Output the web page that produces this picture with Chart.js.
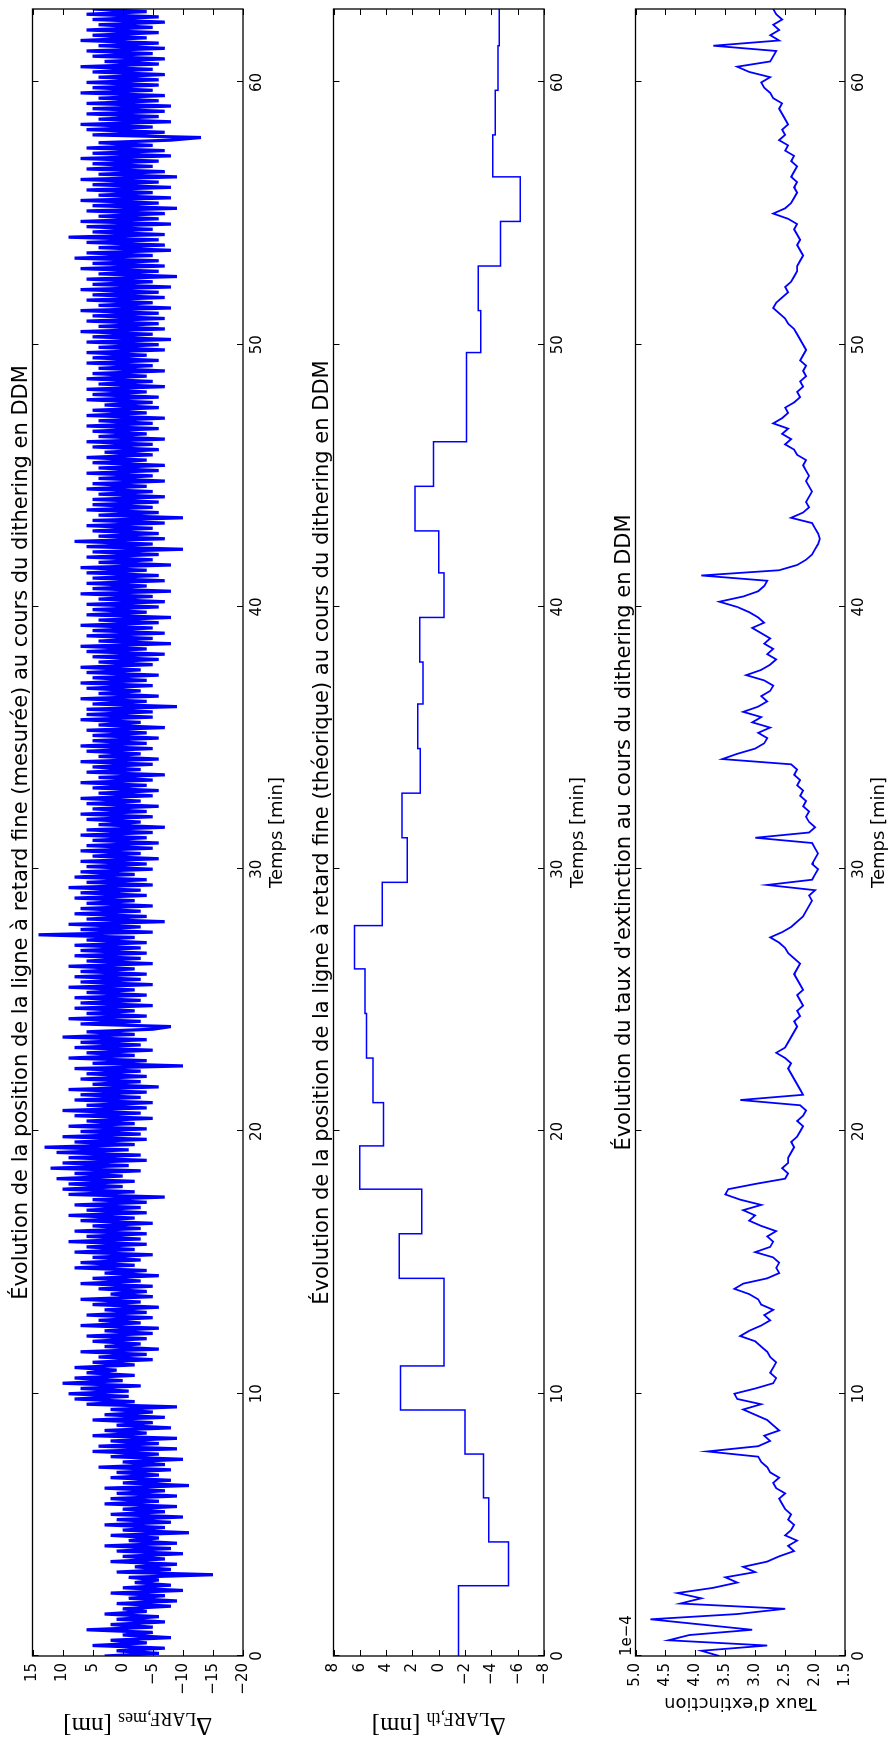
<!DOCTYPE html>
<html>
<head>
<meta charset="utf-8">
<script src="https://cdn.jsdelivr.net/npm/chart.js@4.4.0/dist/chart.umd.min.js"></script>
<style>
  html, body { margin: 0; padding: 0; background: #fff; overflow: hidden; }
  /* the figure is laid out landscape, then turned a quarter turn */
  #fig { position: absolute; left: 0; top: 0; width: 1742px; height: 891px;
         transform-origin: 0 0; transform: translateY(1742px) rotate(-90deg); background: #fff; }
  #fig canvas { position: absolute; left: 0; }
</style>
</head>
<body>
<div id="fig">
  <canvas id="cMes" width="1742" height="289" style="top:0px"></canvas>
  <canvas id="cTh" width="1742" height="289" style="top:301px"></canvas>
  <canvas id="cExt" width="1742" height="288" style="top:603px"></canvas>
</div>
<script>
const tMax = 62.8;
const xTicks = [0, 10, 20, 30, 40, 50, 60];

// measured delay line position [nm], one sample every 0.1 min
const mesStep = 0.1;
const deltaMes = [
  3, -6, 1, -7, 5, -4, 2, -8, 0, -5,
  6, -5, 2, -7, 1, -6, 3, -4, 0, -8,
  1, -9, -1, -7, 2, -10, 0, -8, -2, -6,
  -1, -15, 1, -8, -2, -9, 2, -7, 0, -10,
  1, -8, 3, -9, -1, -6, 2, -11, 0, -7,
  3, -8, 1, -10, 2, -7, 0, -9, 3, -6,
  2, -9, 1, -7, 3, -11, 0, -8, 2, -6,
  1, -8, 4, -7, 0, -10, 2, -6, 5, -9,
  4, -6, 2, -9, 5, -4, 3, -8, 1, -5,
  5, -7, 3, -5, 2, -9, 6, -2, 8, -1,
  9, -1, 7, -3, 10, 0, 8, -2, 6, 1,
  8, -2, 5, -5, 4, -4, 7, -6, 3, -3,
  5, -4, 6, -5, 3, -6, 7, -3, 4, -5,
  6, -4, 3, -6, 5, -3, 7, -5, 2, -4,
  4, -5, 7, -3, 5, -6, 3, -4, 8, -2,
  7, -3, 5, -5, 8, -2, 6, -4, 9, -3,
  6, -4, 8, -3, 5, -5, 7, -2, 9, -4,
  6, -3, 8, -4, 5, -7, 9, -2, 10, 0,
  9, -2, 11, 0, 8, -3, 12, -1, 10, -4,
  9, -3, 11, -1, 13, -2, 8, -4, 10, -3,
  7, -4, 9, -2, 6, -5, 8, -3, 10, -4,
  6, -5, 8, -3, 7, -4, 9, -6, 5, -3,
  7, -4, 6, -3, 8, -10, 5, -4, 9, -2,
  6, -5, 8, -3, 7, -4, 10, -2, 6, -5,
  -8, 7, -3, 9, -4, 6, -2, 8, -5, 7,
  -3, 8, -4, 6, -2, 9, -5, 7, -3, 8,
  -4, 7, -2, 9, -5, 6, -3, 8, -4, 7,
  -3, 8, -4, 6, -2, 14, -5, 7, -3, 9,
  -7, 6, -4, 8, -3, 7, -5, 6, -2, 8,
  -4, 7, -3, 9, -5, 6, -4, 8, -2, 7,
  -5, 6, -4, 7, -6, 5, -3, 7, -5, 6,
  -6, 5, -4, 7, -5, 6, -7, 4, -3, 6,
  -5, 7, -4, 5, -6, 6, -3, 7, -5, 4,
  -6, 5, -4, 7, -5, 4, -7, 6, -3, 5,
  -5, 7, -6, 4, -3, 6, -5, 7, -4, 5,
  -6, 5, -4, 6, -7, 4, -3, 7, -5, 6,
  -5, 6, -9, 5, -4, 7, -6, 4, -3, 6,
  -5, 7, -4, 5, -6, 6, -3, 7, -5, 4,
  -6, 5, -7, 6, -4, 7, -8, 4, -5, 6,
  -7, 5, -5, 7, -6, 4, -8, 6, -4, 5,
  -6, 6, -7, 4, -5, 7, -8, 5, -4, 6,
  -7, 5, -6, 6, -4, 7, -8, 4, -5, 6,
  -6, 5, -10, 6, -5, 8, -7, 4, -6, 5,
  -5, 6, -7, 5, -10, 4, -6, 6, -5, 5,
  -6, 5, -7, 4, -5, 6, -4, 5, -7, 4,
  -5, 6, -6, 4, -7, 5, -4, 6, -5, 3,
  -6, 5, -5, 6, -7, 4, -4, 5, -6, 6,
  -5, 4, -7, 6, -4, 5, -6, 3, -5, 6,
  -6, 5, -4, 6, -7, 4, -5, 6, -4, 5,
  -7, 4, -5, 6, -6, 5, -4, 6, -7, 4,
  -6, 6, -8, 5, -5, 7, -7, 4, -6, 6,
  -7, 5, -6, 7, -8, 4, -5, 6, -7, 5,
  -6, 7, -8, 5, -5, 6, -9, 4, -6, 7,
  -7, 5, -6, 8, -5, 6, -8, 4, -7, 6,
  -6, 9, -7, 5, -5, 6, -8, 7, -6, 4,
  -7, 6, -9, 5, -6, 7, -8, 4, -5, 6,
  -8, 5, -6, 7, -9, 4, -7, 6, -5, 5,
  -6, 7, -8, 5, -7, 6, -5, 4, -8, -13,
  5, -7, 6, -5, 7, -8, 4, -6, 6, -7,
  5, -8, 6, -6, 4, -7, 7, -5, 5, -6,
  6, -6, 4, -7, 5, -5, 7, -6, 3, -7,
  5, -5, 6, -7, 4, -6, 7, -4, 5, -6,
  6, -5, 4, -7, 5, -6, 6, -4, 5
];

// theoretical delay line position [nm]: level held from each time until the next
const stepTimes = [0, 2.68, 4.35, 6.03, 7.7, 9.38, 11.06, 14.4, 16.1, 17.8, 19.45, 21.1,
  22.8, 24.5, 26.2, 27.85, 29.5, 31.2, 32.9, 34.6, 36.3, 37.9, 39.6, 41.3, 42.9, 44.6,
  46.3, 49.7, 51.3, 53.0, 54.7, 56.4, 58.0, 59.7, 61.4, 62.8];
const stepLevels = [-1.5, -5.3, -3.8, -3.4, -2.0, 2.9, -0.4, 3.0, 1.3, 6.0, 4.2, 5.0,
  5.5, 5.6, 6.4, 4.3, 2.4, 2.8, 1.4, 1.6, 1.2, 1.45, -0.4, 0.0, 1.8, 0.4,
  -2.1, -3.2, -3.0, -4.7, -6.2, -4.1, -4.3, -4.5, -4.6, -4.6];

// extinction ratio (x 1e-4), one sample every 0.2 min
const extStep = 0.2;
const extinction = [
  3.6, 3.9, 2.8, 4.45, 4.1,
  3.05, 3.9, 4.75, 3.3, 2.5,
  4.25, 3.9, 4.3, 3.7, 3.3,
  3.5, 3.0, 3.2, 2.8, 2.6,
  2.35, 2.45, 2.3, 2.5, 2.4,
  2.35, 2.45, 2.4, 2.5, 2.55,
  2.6, 2.5, 2.65, 2.7, 2.6,
  2.75, 2.8, 2.9, 2.95, 3.8,
  2.95, 2.75, 2.85, 2.6, 2.7,
  2.8, 3.0, 3.2, 2.9, 3.3,
  3.35, 3.0, 2.7, 2.65, 2.75,
  2.7, 2.65, 2.75, 2.8, 2.9,
  3.0, 3.25, 3.1, 2.9, 2.75,
  2.85, 2.7, 2.9, 2.95, 3.1,
  3.35, 3.2, 2.8, 2.6, 2.65,
  2.6, 2.7, 3.0, 2.75, 2.7,
  2.8, 2.65, 2.9, 3.1, 3.0,
  3.2, 2.9, 3.25, 3.5, 3.45,
  3.0, 2.5, 2.45, 2.55, 2.45,
  2.45, 2.4, 2.35, 2.4, 2.3,
  2.25, 2.2, 2.3, 2.2, 2.15,
  2.25, 3.25, 2.2, 2.25, 2.3,
  2.35, 2.4, 2.45, 2.4, 2.5,
  2.65, 2.5, 2.45, 2.4, 2.35,
  2.3, 2.35, 2.25, 2.3, 2.2,
  2.25, 2.3, 2.2, 2.25, 2.3,
  2.35, 2.3, 2.25, 2.35, 2.45,
  2.5, 2.6, 2.75, 2.55, 2.4,
  2.3, 2.2, 2.15, 2.1, 2.05,
  2.1, 2.0, 2.8, 2.05, 2.0,
  1.95, 2.05, 2.0, 1.95, 2.0,
  2.05, 3.0, 2.1, 2.0, 2.1,
  2.15, 2.1, 2.2, 2.15, 2.25,
  2.2, 2.3, 2.25, 2.35, 2.3,
  2.4, 3.55, 3.3, 3.0, 2.85,
  2.8, 2.95, 2.75, 3.05, 2.9,
  3.2, 2.95, 2.8, 2.9, 2.75,
  2.7, 2.85, 3.15, 2.9, 2.75,
  2.65, 2.8, 2.7, 2.85, 2.75,
  2.9, 3.05, 2.85, 2.95, 3.1,
  3.3, 3.6, 3.2, 2.95, 2.85,
  2.8, 3.9, 2.6, 2.3, 2.15,
  2.05, 2.0, 1.95, 1.92, 1.95,
  2.0, 2.05, 2.4, 2.2, 2.1,
  2.15, 2.1, 2.05, 2.1, 2.15,
  2.1, 2.15, 2.2, 2.15, 2.3,
  2.35, 2.5, 2.4, 2.55, 2.45,
  2.7, 2.55, 2.45, 2.5, 2.35,
  2.25, 2.3, 2.2, 2.25, 2.15,
  2.2, 2.15, 2.25, 2.2, 2.15,
  2.2, 2.25, 2.3, 2.35, 2.45,
  2.5, 2.6, 2.7, 2.65, 2.55,
  2.45, 2.5, 2.4, 2.35, 2.3,
  2.3, 2.25, 2.2, 2.25, 2.3,
  2.25, 2.3, 2.35, 2.3, 2.45,
  2.7, 2.5, 2.4, 2.35, 2.3,
  2.35, 2.3, 2.4, 2.35, 2.3,
  2.4, 2.35, 2.5, 2.45, 2.6,
  2.5, 2.55, 2.45, 2.5, 2.55,
  2.6, 2.55, 2.7, 2.75, 2.85,
  2.9, 2.75, 3.1, 3.3, 2.75,
  2.7, 2.65, 3.7, 2.6, 2.75,
  2.6, 2.7, 2.55, 2.65, 2.7
];

const mesTicks = [-20, -15, -10, -5, 0, 5, 10, 15];
const thTicks = [-8, -6, -4, -2, 0, 2, 4, 6, 8];
const extTicks = [1.5, 2.0, 2.5, 3.0, 3.5, 4.0, 4.5, 5.0];

const SANS = '"DejaVu Sans", "Bitstream Vera Sans", sans-serif';
const SERIF = '"Liberation Serif", "DejaVu Serif", serif';
const BLUE = '#0000ff';

function minus(s) { return String(s).replace('-', '\u2212'); }

// box with inward ticks on all four sides, like matplotlib classic
const framePlugin = {
  id: 'frame',
  afterDatasetsDraw(chart) {
    const { ctx, chartArea: a, scales: { x, y } } = chart;
    const len = 6;
    ctx.save();
    ctx.strokeStyle = '#000';
    ctx.lineWidth = 1;
    ctx.beginPath();
    x.ticks.forEach(t => {
      const px = Math.round(x.getPixelForValue(t.value)) + 0.5;
      ctx.moveTo(px, a.bottom); ctx.lineTo(px, a.bottom - len);
      ctx.moveTo(px, a.top); ctx.lineTo(px, a.top + len);
    });
    y.ticks.forEach(t => {
      const py = Math.round(y.getPixelForValue(t.value)) + 0.5;
      ctx.moveTo(a.left, py); ctx.lineTo(a.left + len, py);
      ctx.moveTo(a.right, py); ctx.lineTo(a.right - len, py);
    });
    ctx.stroke();
    ctx.lineWidth = 1.3;
    ctx.strokeRect(a.left, a.top, a.right - a.left, a.bottom - a.top);
    ctx.restore();
  }
};

// y label with a subscript (mathtext style) and the offset text "1e-4"
const extraTextPlugin = {
  id: 'extraText',
  afterDraw(chart, args, opts) {
    const { ctx, chartArea: a } = chart;
    ctx.save();
    ctx.fillStyle = '#000';
    if (opts.sub) {
      const big = '25px ' + SERIF, small = '18px ' + SERIF;
      ctx.font = big;
      const wD = ctx.measureText('\u0394').width;
      const wU = ctx.measureText(' [nm]').width;
      ctx.font = small;
      const wS = ctx.measureText(opts.sub).width;
      let x0 = -(wD + wS + wU) / 2;
      ctx.translate(19, (a.top + a.bottom) / 2);
      ctx.rotate(-Math.PI / 2);
      ctx.textAlign = 'left';
      ctx.textBaseline = 'alphabetic';
      ctx.font = big; ctx.fillText('\u0394', x0, 5); x0 += wD;
      ctx.font = small; ctx.fillText(opts.sub, x0, 10); x0 += wS;
      ctx.font = big; ctx.fillText(' [nm]', x0, 5);
    }
    if (opts.offset) {
      ctx.font = '15px ' + SANS;
      ctx.textAlign = 'left';
      ctx.textBaseline = 'alphabetic';
      ctx.fillText(opts.offset, a.left, a.top - 5);
    }
    ctx.restore();
  }
};

function makePanel(id, title, data, stepped, lineW, yMin, yMax, yTicks, fmt, yTitle, extra) {
  return new Chart(document.getElementById(id), {
    type: 'line',
    data: {
      datasets: [{
        data: data,
        borderColor: BLUE,
        borderWidth: lineW,
        borderJoinStyle: 'miter',
        pointRadius: 0,
        tension: 0,
        stepped: stepped,
        fill: false
      }]
    },
    options: {
      responsive: false,
      animation: false,
      events: [],
      layout: { padding: { left: 0, right: 9, top: 0, bottom: 0 } },
      plugins: {
        legend: { display: false },
        tooltip: { enabled: false },
        title: {
          display: true, text: title, color: '#000', fullSize: false,
          font: { family: SANS, size: 21, weight: 'normal', lineHeight: 1 },
          padding: { top: 11.5, bottom: 0 }
        },
        extraText: extra
      },
      scales: {
        x: {
          type: 'linear', min: 0, max: tMax,
          afterBuildTicks: s => { s.ticks = xTicks.map(v => ({ value: v })); },
          afterFit: s => { s.height = 46; },
          grid: { display: false, drawTicks: false },
          border: { display: false },
          ticks: { color: '#000', font: { family: SANS, size: 15 }, padding: 5,
                   maxRotation: 0, autoSkip: false },
          title: { display: true, text: 'Temps [min]', color: '#000',
                   font: { family: SANS, size: 18 }, padding: { top: 0, bottom: 1 } }
        },
        y: {
          type: 'linear', min: yMin, max: yMax,
          afterBuildTicks: s => { s.ticks = yTicks.map(v => ({ value: v })); },
          afterFit: s => { s.width = 86; },
          grid: { display: false, drawTicks: false },
          border: { display: false },
          ticks: { color: '#000', font: { family: SANS, size: 15 }, padding: 7,
                   autoSkip: false, callback: v => minus(fmt(v)) },
          title: yTitle
        }
      }
    },
    plugins: [framePlugin, extraTextPlugin]
  });
}

const mesPoints = deltaMes.map((v, i) => ({ x: +(i * mesStep).toFixed(2), y: v }));
const thPoints = stepTimes.map((t, i) => ({ x: t, y: stepLevels[i] }));
const extPoints = extinction.map((v, i) => ({ x: +(i * extStep).toFixed(2), y: v }));

makePanel('cMes',
  '\u00c9volution de la position de la ligne \u00e0 retard fine (mesur\u00e9e) au cours du dithering en DDM',
  mesPoints, false, 3.2, -20, 15, mesTicks, v => String(v),
  { display: false }, { sub: 'LARF,mes' });

makePanel('cTh',
  '\u00c9volution de la position de la ligne \u00e0 retard fine (th\u00e9orique) au cours du dithering en DDM',
  thPoints, 'before', 1.5, -8, 8, thTicks, v => String(v),
  { display: false }, { sub: 'LARF,th' });

makePanel('cExt',
  "\u00c9volution du taux d'extinction au cours du dithering en DDM",
  extPoints, false, 1.8, 1.5, 5.0, extTicks, v => v.toFixed(1),
  { display: true, text: "Taux d'extinction", color: '#000',
    font: { family: SANS, size: 18 }, padding: { top: 29, bottom: 0 } },
  { offset: '1e\u22124' });
</script>
</body>
</html>
